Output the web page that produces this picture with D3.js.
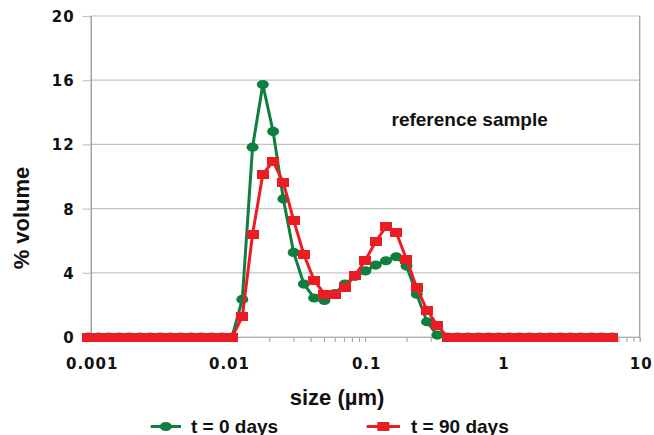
<!DOCTYPE html>
<html><head><meta charset="utf-8">
<script src="https://cdn.jsdelivr.net/npm/d3@7"></script>
<style>
html,body{margin:0;padding:0;background:#fff;}
svg{display:block;}
</style></head><body>
<svg id="chart" width="654" height="435"></svg>
<script>
// particle size classes (µm)
const sizes = [0.000962,0.001143,0.001357,0.001612,0.001915,0.002275,0.002703,0.003210,0.003813,0.004530,
  0.005380,0.006391,0.007592,0.009018,0.01071,0.01272,0.01511,0.01795,0.02133,0.02533,
  0.03009,0.03574,0.04246,0.05043,0.05991,0.07116,0.08453,0.1004,0.1193,0.1417,
  0.1683,0.1999,0.2375,0.2821,0.3350,0.3980,0.4727,0.5615,0.6670,0.7923,
  0.9412,1.118,1.328,1.577,1.874,2.226,2.644,3.140,3.730,4.431,5.264,6.252];
// % volume, t = 0 days
const day0 = [0,0,0,0,0,0,0,0,0,0,0,0,0,0,0,
  2.34,11.83,15.73,12.81,8.6,5.27,3.3,2.43,2.28,2.7,3.3,3.78,4.12,4.48,4.75,5.0,4.42,2.67,0.95,0.12,
  0,0,0,0,0,0,0,0,0,0,0,0,0,0,0,0,0];
// % volume, t = 90 days
const day90 = [0,0,0,0,0,0,0,0,0,0,0,0,0,0,0,
  1.26,6.4,10.14,10.94,9.62,7.28,5.14,3.54,2.67,2.67,3.09,3.84,4.79,5.95,6.86,6.51,4.84,3.06,1.68,0.72,
  0,0,0,0,0,0,0,0,0,0,0,0,0,0,0,0,0];
const seriesNames = ["t = 0 days", "t = 90 days"];
const yTicks = [0, 4, 8, 12, 16, 20];
const xTicks = [0.001, 0.01, 0.1, 1, 10];
const xTickLabels = ["0.001", "0.01", "0.1", "1", "10"];
const xTitle = "size (µm)";
const yTitle = "% volume";
const annotation = "reference sample";

const GREEN = "#0e7f3e", RED = "#ec1c24";
const svg = d3.select("#chart");
const L = 90.7, R = 639.7, T = 16, B = 337;
const x = d3.scaleLog().domain([0.001, 10]).range([L, R]);
const y = d3.scaleLinear().domain([0, 20]).range([B, T]);

// gridlines
svg.append("g").selectAll("line").data(yTicks).join("line")
  .attr("x1", L).attr("x2", R).attr("y1", d => y(d)).attr("y2", d => y(d))
  .attr("stroke", "#c4c4c4").attr("stroke-width", 1.2);
// right border
svg.append("line").attr("x1", R).attr("x2", R).attr("y1", T).attr("y2", B)
  .attr("stroke", "#a8a8a8").attr("stroke-width", 1.5);

// y axis
const yAxis = svg.append("g").attr("transform", `translate(${L},0)`)
  .call(d3.axisLeft(y).tickValues(yTicks).tickSize(8).tickPadding(8).tickFormat(d3.format("d")));
yAxis.select(".domain").attr("stroke", "#8c8c8c").attr("stroke-width", 1.2);
yAxis.selectAll(".tick line").attr("stroke", "#c4c4c4").attr("stroke-width", 1.2);
yAxis.selectAll(".tick text").attr("font-family", "'DejaVu Sans', sans-serif")
  .attr("font-weight", "bold").attr("font-size", 15).attr("letter-spacing", 1)
  .attr("fill", "#111").attr("dy", "0.36em");

// x axis minor ticks
const minor = [];
for (let e = -3; e < 1; e++) for (let m = 2; m <= 9; m++) minor.push(m * Math.pow(10, e));
const xMinor = svg.append("g").attr("transform", `translate(0,${B})`)
  .call(d3.axisBottom(x).tickValues(minor).tickSize(5).tickFormat(""));
xMinor.select(".domain").remove();
xMinor.selectAll(".tick line").attr("stroke", "#a0a0a0");

const xAxis = svg.append("g").attr("transform", `translate(0,${B})`)
  .call(d3.axisBottom(x).tickValues(xTicks).tickSize(5).tickFormat((d, i) => xTickLabels[i]));
xAxis.select(".domain").attr("stroke", "#b0b0b0");
xAxis.selectAll(".tick line").attr("stroke", "#a0a0a0");
xAxis.selectAll(".tick text").attr("font-family", "'DejaVu Sans', sans-serif")
  .attr("font-weight", "bold").attr("font-size", 15).attr("letter-spacing", 1)
  .attr("fill", "#111").attr("y", 32).attr("dy", null).attr("dx", 1);

// series
const pts0 = sizes.map((s, i) => [s, day0[i]]);
const pts90 = sizes.map((s, i) => [s, day90[i]]);
const line = d3.line().x(d => x(d[0])).y(d => y(d[1]));

svg.append("path").datum(pts0).attr("d", line).attr("fill", "none")
  .attr("stroke", GREEN).attr("stroke-width", 3);
svg.append("g").selectAll("ellipse").data(pts0).join("ellipse")
  .attr("cx", d => x(d[0])).attr("cy", d => y(d[1])).attr("rx", 6).attr("ry", 4.6).attr("fill", GREEN);

svg.append("path").datum(pts90).attr("d", line).attr("fill", "none")
  .attr("stroke", RED).attr("stroke-width", 3);
svg.append("g").attr("shape-rendering", "crispEdges").selectAll("rect").data(pts90).join("rect")
  .attr("x", d => x(d[0]) - 6).attr("y", d => y(d[1]) - 4.5).attr("width", 12).attr("height", 9).attr("fill", RED);

// titles
const font = "'Liberation Sans', Arial, sans-serif";
svg.append("text").attr("x", 337).attr("y", 405).attr("text-anchor", "middle")
  .attr("font-family", font).attr("font-weight", "bold").attr("font-size", 22).attr("fill", "#111").text(xTitle);
svg.append("text").attr("transform", "translate(28.5,218) rotate(-90)").attr("text-anchor", "middle")
  .attr("font-family", font).attr("font-weight", "bold").attr("font-size", 22).attr("fill", "#111").text(yTitle);
svg.append("text").attr("x", 391.5).attr("y", 126)
  .attr("font-family", font).attr("font-weight", "bold").attr("font-size", 19).attr("fill", "#111").text(annotation);

// legend
const leg = [
  {name: seriesNames[0], color: GREEN, x0: 150.7, x1: 181, tx: 191, shape: "circle"},
  {name: seriesNames[1], color: RED, x0: 366.7, x1: 400, tx: 411, shape: "square"}
];
const ly = 426.5;
leg.forEach(l => {
  svg.append("line").attr("x1", l.x0).attr("x2", l.x1).attr("y1", ly).attr("y2", ly)
    .attr("stroke", l.color).attr("stroke-width", 3);
  const cx = (l.x0 + l.x1) / 2;
  if (l.shape === "circle") svg.append("ellipse").attr("cx", cx).attr("cy", ly).attr("rx", 6).attr("ry", 4.6).attr("fill", l.color);
  else svg.append("rect").attr("x", cx - 6).attr("y", ly - 4.5).attr("width", 12).attr("height", 9).attr("fill", l.color);
  svg.append("text").attr("x", l.tx).attr("y", 432.5).attr("font-family", font).attr("font-weight", "bold")
    .attr("font-size", 19).attr("fill", "#111").text(l.name);
});
</script>
</body></html>
